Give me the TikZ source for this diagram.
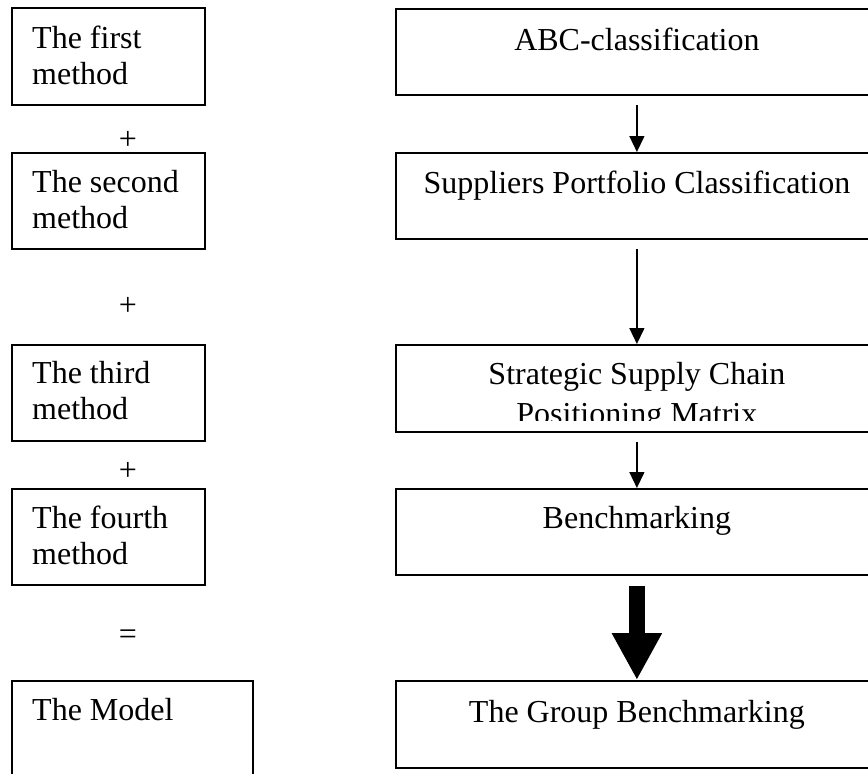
\documentclass[tikz,border=0pt]{standalone}
\usepackage{fontspec}
\setmainfont{Liberation Serif}
\usetikzlibrary{arrows.meta,calc}
\begin{document}
\begin{tikzpicture}[x=1pt,y=-1pt,
  box/.style={draw, line width=1.8pt, inner sep=0pt, anchor=north west},
  lbox/.style={box, minimum width=193pt, minimum height=96pt},
  rbox/.style={box, minimum width=482pt, minimum height=86pt},
  txt/.style={inner sep=0pt, font=\fontsize{32}{36}\selectfont},
  ltxt/.style={txt, anchor=base west, align=left},
  rtxt/.style={txt, anchor=base, align=center},
  sign/.style={txt, anchor=center},
  flow/.style={line width=1.4pt, -{Triangle[width=15pt,length=16pt]}, shorten <=9pt},
  bigflow/.style={line width=16pt, -{Triangle[width=47pt,length=47pt]}, shorten <=10pt}]
\useasboundingbox (0,0) rectangle (868,774);
\clip (0,0) rectangle (868,774);

% left column: the four methods and the model
\node[lbox, minimum height=97pt] (m1) at (11,7) {};
\node[lbox] (m2) at (11,152) {};
\node[lbox] (m3) at (11,344) {};
\node[lbox] (m4) at (11,488) {};
\node[box, minimum width=241pt, minimum height=120pt] (model) at (11,680) {};

% two-line labels sit on the baseline of their last line
\node[ltxt] (t1) at ($(m1.north west)+(21,77)$) {The first\\method};
\node[ltxt] (t2) at ($(m2.north west)+(21,76)$) {The second\\method};
\node[ltxt] (t3) at ($(m3.north west)+(21,75)$) {The third\\method};
\node[ltxt] (t4) at ($(m4.north west)+(21,76)$) {The fourth\\method};
\node[ltxt] (tm) at ($(model.north west)+(21,40)$) {The Model};

\node[sign] (p1) at (128,140) {+};
\node[sign] (p2) at (128,306) {+};
\node[sign] (p3) at (128,471) {+};
\node[sign] (eq) at (128,637) {=};

% right column: the chain of techniques
\node[rbox] (r1) at (395,8) {};
\node[rbox] (r2) at (395,152) {};
\node[rbox, minimum height=87pt] (r3) at (395,344) {};
\node[rbox] (r4) at (395,488) {};
\node[rbox, minimum height=87pt] (r5) at (395,680) {};

\node[rtxt] (s1) at ($(r1.north)+(0,42)$) {ABC-classification};
\node[rtxt] (s2) at ($(r2.north)+(0,41)$) {Suppliers Portfolio Classification};
\begin{scope}
  \clip ($(r3.north west)+(0,2)$) rectangle ($(r3.north east)+(0,76)$);
  \node[rtxt, font=\fontsize{32}{40}\selectfont] (s3) at ($(r3.north)+(0,80)$)
    {Strategic Supply Chain\\Positioning Matrix};
\end{scope}
\node[rtxt] (s4) at ($(r4.north)+(0,40)$) {Benchmarking};
\node[rtxt] (s5) at ($(r5.north)+(0,42)$) {The Group Benchmarking};

\draw[flow] (r1.south) -- (r2.north);
\draw[flow] (r2.south) -- (r3.north);
\draw[flow] (r3.south) -- (r4.north);
\draw[bigflow] (r4.south) -- (r5.north);
\end{tikzpicture}
\end{document}
